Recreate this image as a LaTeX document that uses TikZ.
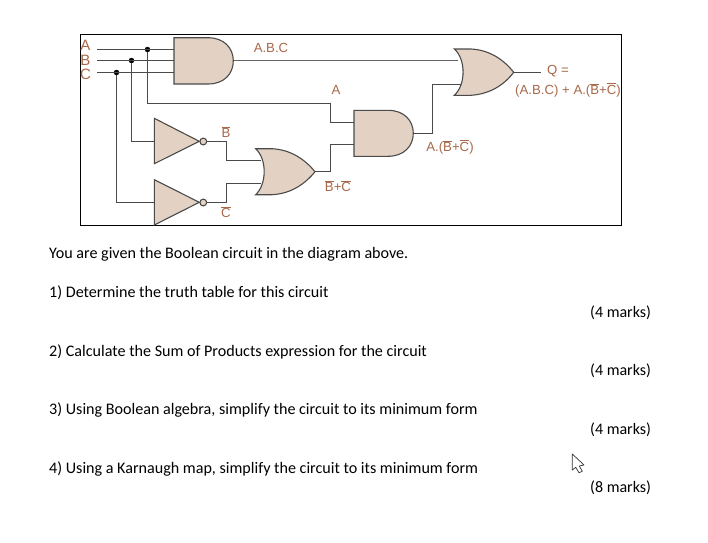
\documentclass[tikz,border=0pt]{standalone}
\usepackage{fontspec}
\setmainfont{Carlito}
\newfontfamily\lblfont{Liberation Sans}
\definecolor{gatefill}{HTML}{E3D2C3}
\definecolor{lbl}{HTML}{A8694A}
\definecolor{wire}{HTML}{4A4A4A}
\newcommand{\ob}[1]{$\overline{\mbox{#1}}$}
\tikzset{
  gatebody/.style={draw=wire,fill=gatefill,line width=1.1pt},
  wireline/.style={draw=wire,line width=1.2pt},
  junction/.style={circle,fill=black,inner sep=0pt,minimum size=5.5pt},
  biglbl/.style={inner sep=0pt,text=lbl,font=\lblfont\fontsize{15}{15}\selectfont},
  lbltext/.style={inner sep=0pt,text=lbl,font=\lblfont\fontsize{13.2}{13.2}\selectfont},
  body/.style={inner sep=0pt,anchor=base west,font=\fontsize{16.1}{17}\selectfont},
  marks/.style={inner sep=0pt,anchor=base west,font=\fontsize{16}{17}\selectfont},
  bubble/.style={circle,draw=wire,fill=gatefill,line width=1.1pt,inner sep=0pt,minimum size=6.8pt},
}
\begin{document}
\begin{tikzpicture}[x=1pt,y=-1pt]
\useasboundingbox (0,0) rectangle (708,542);
\fill[white] (0,0) rectangle (708,542);
\draw[black,line width=1.1pt] (80.5,34.5) rectangle (621.5,225.5);
% named pins
\coordinate (inA) at (97,49.5);
\coordinate (inB) at (97,60.5);
\coordinate (inC) at (97,72.5);
\coordinate (and1A) at (174,49.5);
\coordinate (and1B) at (174,60.5);
\coordinate (and1C) at (174,72.5);
\coordinate (and1out) at (233.3,60.5);
\coordinate (or1a) at (458,60.5);
\coordinate (or1b) at (461,84.5);
\coordinate (or1out) at (513.7,72.5);
\coordinate (qend) at (541,72.5);
\coordinate (and2a) at (354,122.5);
\coordinate (and2b) at (354,144.5);
\coordinate (and2out) at (413.3,133.5);
\coordinate (not1in) at (154.3,141.5);
\coordinate (not2in) at (154.3,202.5);
\coordinate (or2a) at (261,160.5);
\coordinate (or2b) at (261,183.5);
\coordinate (or2out) at (315,171.5);
\node[junction] (dA) at (147.5,49.5) {};
\node[junction] (dB) at (131.5,60.5) {};
\node[junction] (dC) at (116.5,72.5) {};
\node[bubble] (b1) at (203.3,141.5) {};
\node[bubble] (b2) at (203.3,202.5) {};
% wires
\draw[wireline] (inA) -- (and1A);
\draw[wireline] (inB) -- (and1B);
\draw[wireline] (inC) -- (and1C);
\draw[wireline] (dA) |- (330.5,103.5) |- (and2a);
\draw[wireline] (dB) |- (not1in);
\draw[wireline] (dC) |- (not2in);
\draw[wireline,line width=1.6pt,draw=wire!85] (and1out) -- (or1a);
\draw[wireline] (and2out) -| (432.5,84.5) -- (or1b);
\draw[wireline] (or1out) -- (qend);
\draw[wireline] (b1) -| (226.5,160.5) -- (or2a);
\draw[wireline] (b2) -| (226.5,183.5) -- (or2b);
\draw[wireline] (or2out) -| (330.5,144.5) -- (and2b);
% gates
\path[gatebody] (174,37.7) -- (208,37.7) .. controls (224,37.7) and (233.3,48) .. (233.3,60.8) .. controls (233.3,74) and (224,84) .. (208,84) -- (174,84) -- cycle;
\path[gatebody] (354,110.3) -- (388,110.3) .. controls (404,110.3) and (413.3,120.5) .. (413.3,133.3) .. controls (413.3,146) and (404,156.3) .. (388,156.3) -- (354,156.3) -- cycle;
\path[gatebody] (454.3,49) -- (471,49) .. controls (490,50) and (504,60) .. (513.7,72.3) .. controls (504,85) and (490,94) .. (471,95.3) -- (454.3,95.3) .. controls (466,85) and (466,59) .. (454.3,49) -- cycle;
\path[gatebody] (255.7,148.7) -- (272,148.7) .. controls (291,149.7) and (305,159.5) .. (315,171.7) .. controls (305,184) and (291,193.7) .. (272,194.7) -- (255.7,194.7) .. controls (267,184) and (267,159) .. (255.7,148.7) -- cycle;
\path[gatebody] (154.3,118.3) -- (199.3,141.3) -- (154.3,163.7) -- cycle;
\path[gatebody] (154.3,179.7) -- (199.3,202.3) -- (154.3,225) -- cycle;
% labels
\node[biglbl] (lA) at (85.5,45) {A};
\node[biglbl] (lB) at (85.5,60) {B};
\node[biglbl] (lC) at (85.5,74) {C};
\node[lbltext] (t1) at (271,48) {A.B.C};
\node[lbltext] (t2) at (336,90) {A};
\node[lbltext] (t3) at (226,132) {\ob{B}};
\node[lbltext] (t4) at (226,212) {\ob{C}};
\node[lbltext] (t5) at (338,186) {\ob{B}+\ob{C}};
\node[lbltext] (t6) at (450,147) {A.(\ob{B}+\ob{C})};
\node[lbltext] (t7) at (558,71) {Q =};
\node[lbltext] (t8) at (568,90) {(A.B.C) + A.(\ob{B}+\ob{C})};
% text
\node[body] (p0) at (49,258) {You are given the Boolean circuit in the diagram above.};
\node[body] (p1) at (49,297) {1) Determine the truth table for this circuit};
\node[body] (p2) at (49,356) {2) Calculate the Sum of Products expression for the circuit};
\node[body] (p3) at (49,414) {3) Using Boolean algebra, simplify the circuit to its minimum form};
\node[body] (p4) at (49,473) {4) Using a Karnaugh map, simplify the circuit to its minimum form};
\node[marks] (m1) at (590,317) {(4 marks)};
\node[marks] (m2) at (590,375) {(4 marks)};
\node[marks] (m3) at (590,434) {(4 marks)};
\node[marks] (m4) at (590,492) {(8 marks)};
% cursor
\draw[fill=white,draw=black!80,line width=0.7pt,line join=round] (572.3,454) -- (572.3,470) -- (575.7,467.3) -- (579,472.7) -- (582.3,471.3) -- (579.3,466) -- (584,465) -- cycle;
\end{tikzpicture}
\end{document}
